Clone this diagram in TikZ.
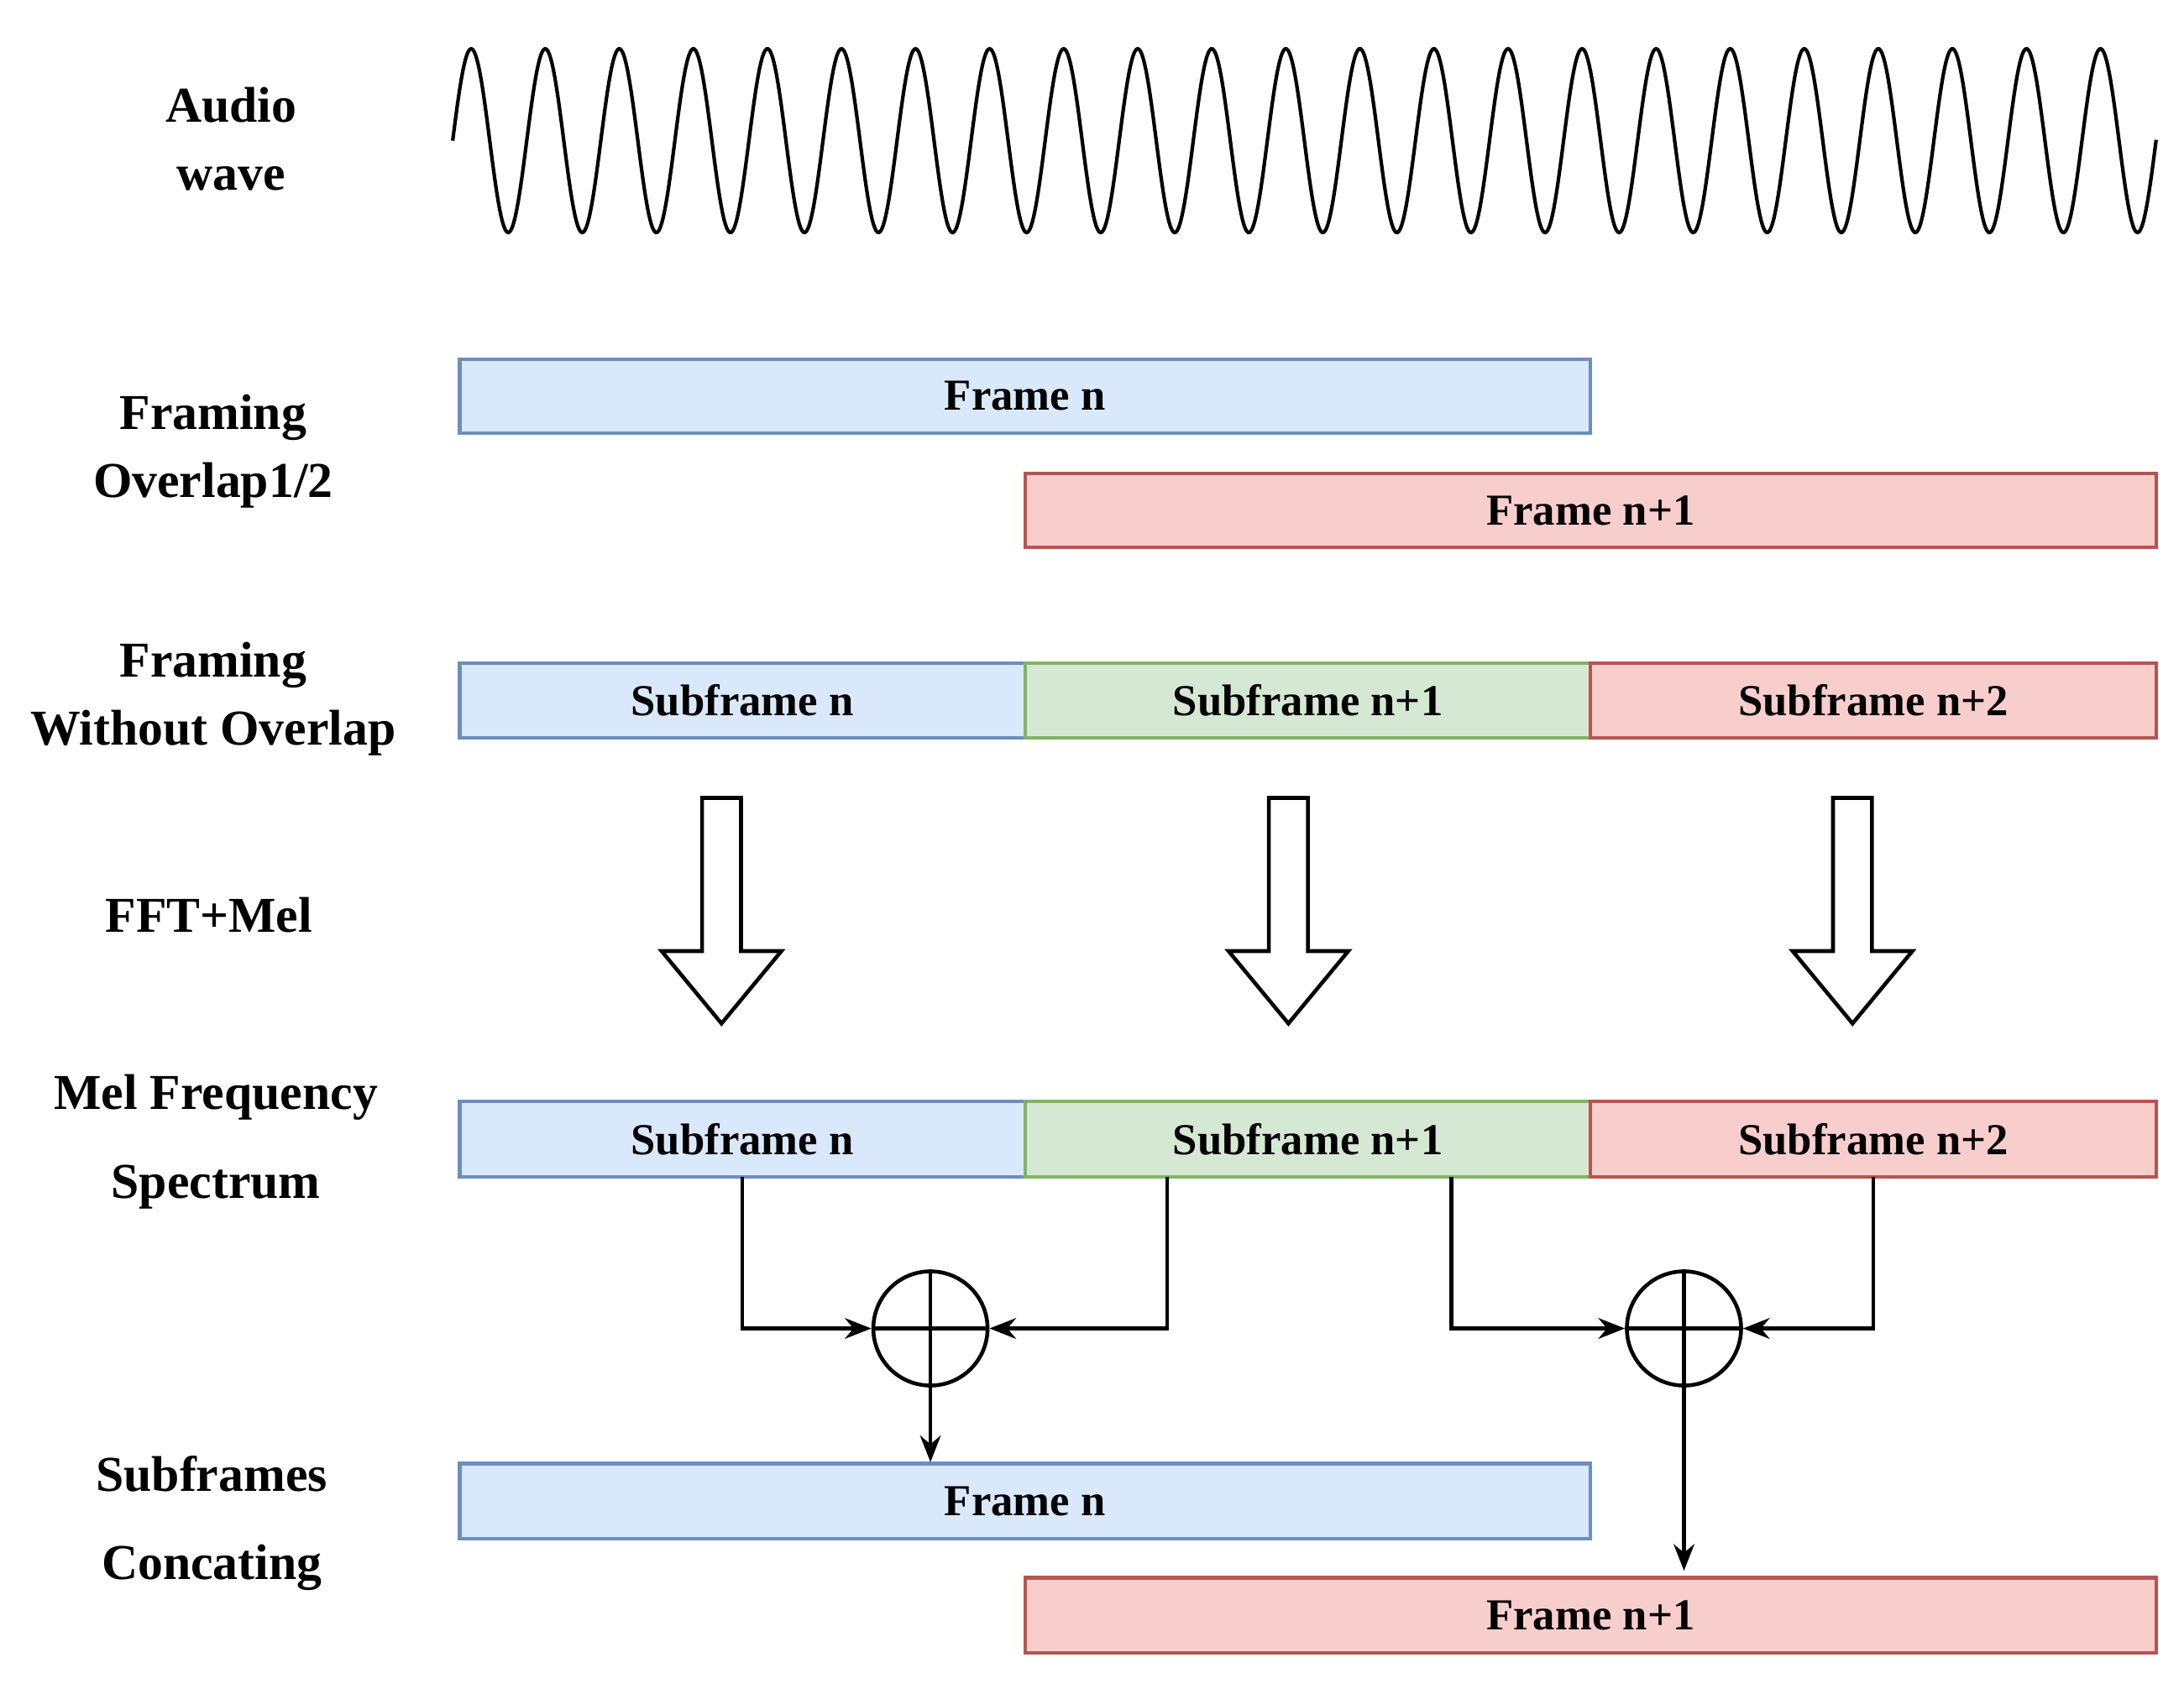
\documentclass[tikz,border=0pt]{standalone}
\usepackage{fontspec}
\setmainfont{Liberation Serif}
\usetikzlibrary{arrows.meta,shapes.arrows}
\definecolor{bf}{HTML}{DAE8FC}\definecolor{bd}{HTML}{6C8EBF}
\definecolor{gf}{HTML}{D5E8D4}\definecolor{gd}{HTML}{82B366}
\definecolor{rf}{HTML}{F8CECC}\definecolor{rd}{HTML}{B85450}
\begin{document}
\begin{tikzpicture}[x=0.016588cm,y=-0.016588cm,
 box/.style={draw=#1d,fill=#1f,line width=1.2pt,font=\fontsize{15}{18}\selectfont\bfseries},
 lab/.style={align=center,font=\fontsize{17}{23}\selectfont\bfseries},
 con/.style={line width=1.3pt,-{Stealth[length=9pt,width=7pt]}},
 harrow/.style={line width=1.3pt,fill=white,draw=black}]
\useasboundingbox (0,0) rectangle (1568,1216);
\draw[line width=1.2pt] plot[domain=325:1548,samples=1200] (\x,{101-66*sin((\x-325)/53.17*360)});
\node[lab] (l1) at (166,100) {Audio\\wave};
\node[lab] (l2) at (153,324) {Framing\\Overlap1/2};
\node[lab] (l3) at (153,502) {Framing\\Without Overlap};
\node[lab] (l4) at (150,657) {FFT+Mel};
\node[lab,font=\fontsize{17}{30}\selectfont\bfseries] (l5) at (155,820) {Mel Frequency\\Spectrum};
\node[lab,font=\fontsize{17}{30}\selectfont\bfseries] (l6) at (152,1094) {Subframes\\Concating};
% boxes
\draw[box=b] (330,258) rectangle node (f1) {Frame n} (1142,311);
\draw[box=r] (736,340) rectangle node (f2) {Frame n+1} (1548,393);
\draw[box=b] (330,476) rectangle node (s1) {Subframe n} (736,530);
\draw[box=g] (736,476) rectangle node (s2) {Subframe n+1} (1142,530);
\draw[box=r] (1142,476) rectangle node (s3) {Subframe n+2} (1548,530);
\draw[box=b] (330,791) rectangle node (m1) {Subframe n} (736,845);
\draw[box=g] (736,791) rectangle node (m2) {Subframe n+1} (1142,845);
\draw[box=r] (1142,791) rectangle node (m3) {Subframe n+2} (1548,845);
\draw[box=b] (330,1051) rectangle node (c1) {Frame n} (1142,1105);
\draw[box=r] (736,1133) rectangle node (c2) {Frame n+1} (1548,1187);
% hollow arrows
\foreach \c in {518,925,1330}{
 \draw[harrow] (\c-14,573) -- (\c+14,573) -- (\c+14,683) -- (\c+43,683) -- (\c,735) -- (\c-43,683) -- (\c-14,683) -- cycle;}
% sum circles
\foreach \n/\c in {p1/668,p2/1209}{
 \node[circle,draw,line width=1.3pt,minimum size=82\pgflinewidth,inner sep=0pt,minimum size=1.36cm] (\n) at (\c,954) {};
 \draw[line width=1.3pt] (\n.north) -- (\n.south) (\n.west) -- (\n.east);}
\draw[con] (533,845) -- (533,954) -- (p1.west);
\draw[con] (838,845) -- (838,954) -- (p1.east);
\draw[con] (1042,845) -- (1042,954) -- (p2.west);
\draw[con] (1345,845) -- (1345,954) -- (p2.east);
\coordinate (e1) at (668,1050);
\coordinate (e2) at (1209,1128);
\draw[con] (p1.south) -- (e1);
\draw[con] (p2.south) -- (e2);
\end{tikzpicture}
\end{document}
